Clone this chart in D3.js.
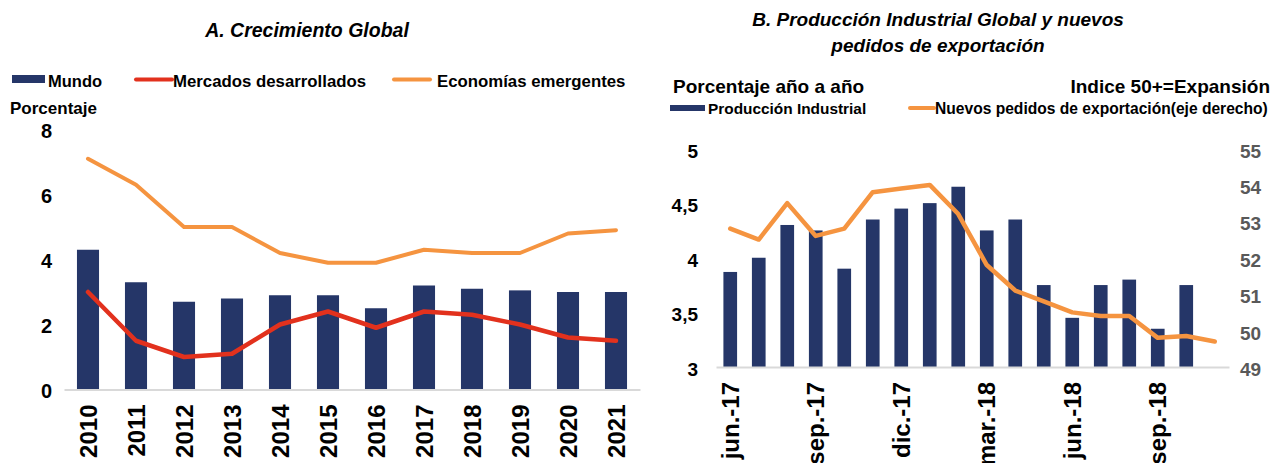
<!DOCTYPE html>
<html>
<head>
<meta charset="utf-8">
<script src="https://cdn.jsdelivr.net/npm/d3@7/dist/d3.min.js"></script>
<style>
  body { margin: 0; background: #fff; }
  svg { font-family: "Liberation Sans", Arial, sans-serif; }
</style>
</head>
<body>
<div id="chart"></div>
<script>
const WIDTH = 1271
const HEIGHT = 463

// Panel A datos
const years = ["2010", "2011", "2012", "2013", "2014", "2015", "2016", "2017", "2018", "2019", "2020", "2021"];
const mundo = [4.3, 3.3, 2.7, 2.8, 2.9, 2.9, 2.5, 3.2, 3.1, 3.05, 3.0, 3.0];
const desarrollados = [3.0, 1.5, 1.0, 1.1, 2.0, 2.4, 1.9, 2.4, 2.3, 2.0, 1.6, 1.5];
const emergentes = [7.1, 6.3, 5.0, 5.0, 4.2, 3.9, 3.9, 4.3, 4.2, 4.2, 4.8, 4.9];
const ticksA = [0, 2, 4, 6, 8];

// Panel B datos
const months = ["jun.-17", "jul.-17", "ago.-17", "sep.-17", "oct.-17", "nov.-17", "dic.-17", "ene.-18", "feb.-18",
  "mar.-18", "abr.-18", "may.-18", "jun.-18", "jul.-18", "ago.-18", "sep.-18", "oct.-18", "nov.-18"];
const produccion = [3.87, 4.0, 4.3, 4.25, 3.9, 4.35, 4.45, 4.5, 4.65, 4.25, 4.35, 3.75, 3.45, 3.75, 3.8, 3.35, 3.75];
const pedidos = [52.8, 52.5, 53.5, 52.6, 52.8, 53.8, 53.9, 54.0, 53.2, 51.8, 51.1, 50.8, 50.5, 50.4, 50.4, 49.8, 49.85, 49.7];
const ticksBLeft = [3, 3.5, 4, 4.5, 5];
const ticksBRight = [49, 50, 51, 52, 53, 54, 55];
const monthLabels = ["jun.-17", "sep.-17", "dic.-17", "mar.-18", "jun.-18", "sep.-18"];

const NAVY = "#253668"
const RED = "#E2311D"
const ORANGE = "#F59440"

const svg = d3.select("#chart")
    .append("svg")
    .attr("width", WIDTH)
    .attr("height", HEIGHT)

// ---------- Panel A ----------
const gA = svg.append("g")

gA.append("text")
    .attr("x", 307).attr("y", 37)
    .attr("text-anchor", "middle")
    .attr("font-size", 19.5).attr("font-weight", "bold").attr("font-style", "italic")
    .text("A. Crecimiento Global")

// leyenda
gA.append("rect").attr("x", 12).attr("y", 75).attr("width", 33).attr("height", 8).attr("fill", NAVY)
gA.append("text").attr("x", 48).attr("y", 87).attr("font-size", 16.5).attr("font-weight", "bold").text("Mundo")
gA.append("line").attr("x1", 136).attr("x2", 172).attr("y1", 79.5).attr("y2", 79.5)
    .attr("stroke", RED).attr("stroke-width", 4).attr("stroke-linecap", "round")
gA.append("text").attr("x", 173).attr("y", 87).attr("font-size", 16.8).attr("font-weight", "bold").text("Mercados desarrollados")
gA.append("line").attr("x1", 394).attr("x2", 430).attr("y1", 79.5).attr("y2", 79.5)
    .attr("stroke", ORANGE).attr("stroke-width", 4).attr("stroke-linecap", "round")
gA.append("text").attr("x", 437).attr("y", 87).attr("font-size", 16.8).attr("font-weight", "bold").text("Economías emergentes")

gA.append("text").attr("x", 10).attr("y", 114).attr("font-size", 17).attr("font-weight", "bold").text("Porcentaje")

const xA = d3.scaleBand().domain(years).range([64, 640])
const yA = d3.scaleLinear().domain([0, 8]).range([389.5, 129.5])
const barWA = xA.bandwidth() * 0.46

gA.selectAll(".barA")
    .data(mundo)
    .enter()
    .append("rect")
    .attr("class", "barA")
    .attr("x", (d, i) => xA(years[i]) + (xA.bandwidth() - barWA) / 2)
    .attr("y", d => yA(d))
    .attr("width", barWA)
    .attr("height", d => yA(0) - yA(d))
    .attr("fill", NAVY)

const lineA = d3.line()
    .x((d, i) => xA(years[i]) + xA.bandwidth() / 2)
    .y(d => yA(d))

gA.append("path").datum(emergentes).attr("d", lineA)
    .attr("fill", "none").attr("stroke", ORANGE).attr("stroke-width", 4).attr("stroke-linejoin", "round").attr("stroke-linecap", "round")
gA.append("path").datum(desarrollados).attr("d", lineA)
    .attr("fill", "none").attr("stroke", RED).attr("stroke-width", 4.5).attr("stroke-linejoin", "round").attr("stroke-linecap", "round")

// ejes
const axAy = gA.append("g")
    .attr("transform", "translate(52,0)")
    .call(d3.axisLeft(yA).tickValues(ticksA).tickSize(0).tickPadding(0))
axAy.select(".domain").remove()
axAy.selectAll("text").attr("font-size", 20).attr("font-weight", "bold").attr("fill", "#000").attr("font-family", null).attr("dy", "0.38em")

const axAx = gA.append("g")
    .attr("transform", `translate(0,${yA(0)})`)
    .call(d3.axisBottom(xA).tickSize(0))
axAx.select(".domain").attr("stroke", "#d9d9d9").attr("stroke-width", 2)
axAx.selectAll("text")
    .attr("transform", "rotate(-90)")
    .attr("text-anchor", "end")
    .attr("x", -15).attr("y", 0).attr("dy", "0.36em")
    .attr("font-size", 24).attr("font-weight", "bold").attr("fill", "#000").attr("font-family", null)

// ---------- Panel B ----------
const gB = svg.append("g")

gB.append("text")
    .attr("x", 938).attr("y", 26)
    .attr("text-anchor", "middle")
    .attr("font-size", 19).attr("font-weight", "bold").attr("font-style", "italic")
    .text("B. Producción Industrial Global y nuevos")
gB.append("text")
    .attr("x", 938).attr("y", 52)
    .attr("text-anchor", "middle")
    .attr("font-size", 19).attr("font-weight", "bold").attr("font-style", "italic")
    .text("pedidos de exportación")

gB.append("text").attr("x", 673).attr("y", 93).attr("font-size", 19).attr("font-weight", "bold").text("Porcentaje año a año")
gB.append("text").attr("x", 1270).attr("y", 93).attr("text-anchor", "end").attr("font-size", 19).attr("font-weight", "bold").text("Indice 50+=Expansión")

gB.append("rect").attr("x", 670).attr("y", 105).attr("width", 35).attr("height", 6).attr("fill", NAVY)
gB.append("text").attr("x", 708).attr("y", 114).attr("font-size", 15.4).attr("font-weight", "bold").text("Producción Industrial")
gB.append("line").attr("x1", 910).attr("x2", 934).attr("y1", 108).attr("y2", 108)
    .attr("stroke", ORANGE).attr("stroke-width", 4).attr("stroke-linecap", "round")
gB.append("text").attr("x", 935).attr("y", 114).attr("font-size", 15.6).attr("font-weight", "bold").text("Nuevos pedidos de exportación(eje derecho)")

const xB = d3.scaleBand().domain(months).range([716, 1229])
const yB = d3.scaleLinear().domain([3, 5]).range([367, 148.5])
const yB2 = d3.scaleLinear().domain([49, 55]).range([367, 148.5])
const barWB = xB.bandwidth() * 0.48

gB.selectAll(".barB")
    .data(produccion)
    .enter()
    .append("rect")
    .attr("class", "barB")
    .attr("x", (d, i) => xB(months[i]) + (xB.bandwidth() - barWB) / 2)
    .attr("y", d => yB(d))
    .attr("width", barWB)
    .attr("height", d => yB(3) - yB(d))
    .attr("fill", NAVY)

const axBx = gB.append("g")
    .attr("transform", `translate(0,${yB(3)})`)
    .call(d3.axisBottom(xB).tickSize(0).tickValues(monthLabels))
axBx.select(".domain").attr("stroke", "#d9d9d9").attr("stroke-width", 2)
axBx.selectAll("text")
    .attr("transform", "rotate(-90)")
    .attr("text-anchor", "end")
    .attr("x", -15).attr("y", 0).attr("dy", "0.36em")
    .attr("font-size", 24).attr("font-weight", "bold").attr("fill", "#000").attr("font-family", null)

const lineB = d3.line()
    .x((d, i) => xB(months[i]) + xB.bandwidth() / 2)
    .y(d => yB2(d))

gB.append("path").datum(pedidos).attr("d", lineB)
    .attr("fill", "none").attr("stroke", ORANGE).attr("stroke-width", 4.5).attr("stroke-linejoin", "round").attr("stroke-linecap", "round")

const axBy = gB.append("g")
    .attr("transform", "translate(698,0)")
    .call(d3.axisLeft(yB).tickValues(ticksBLeft).tickSize(0).tickPadding(0).tickFormat(d => String(d).replace(".", ",")))
axBy.select(".domain").remove()
axBy.selectAll("text").attr("font-size", 19).attr("font-weight", "bold").attr("fill", "#000").attr("font-family", null).attr("dy", "0.45em")

const axBy2 = gB.append("g")
    .attr("transform", "translate(1240,0)")
    .call(d3.axisRight(yB2).tickValues(ticksBRight).tickSize(0).tickPadding(0).tickFormat(d => String(d)))
axBy2.select(".domain").remove()
axBy2.selectAll("text").attr("font-size", 19).attr("font-weight", "bold").attr("fill", "#595959").attr("font-family", null).attr("dy", "0.45em")
</script>
</body>
</html>
